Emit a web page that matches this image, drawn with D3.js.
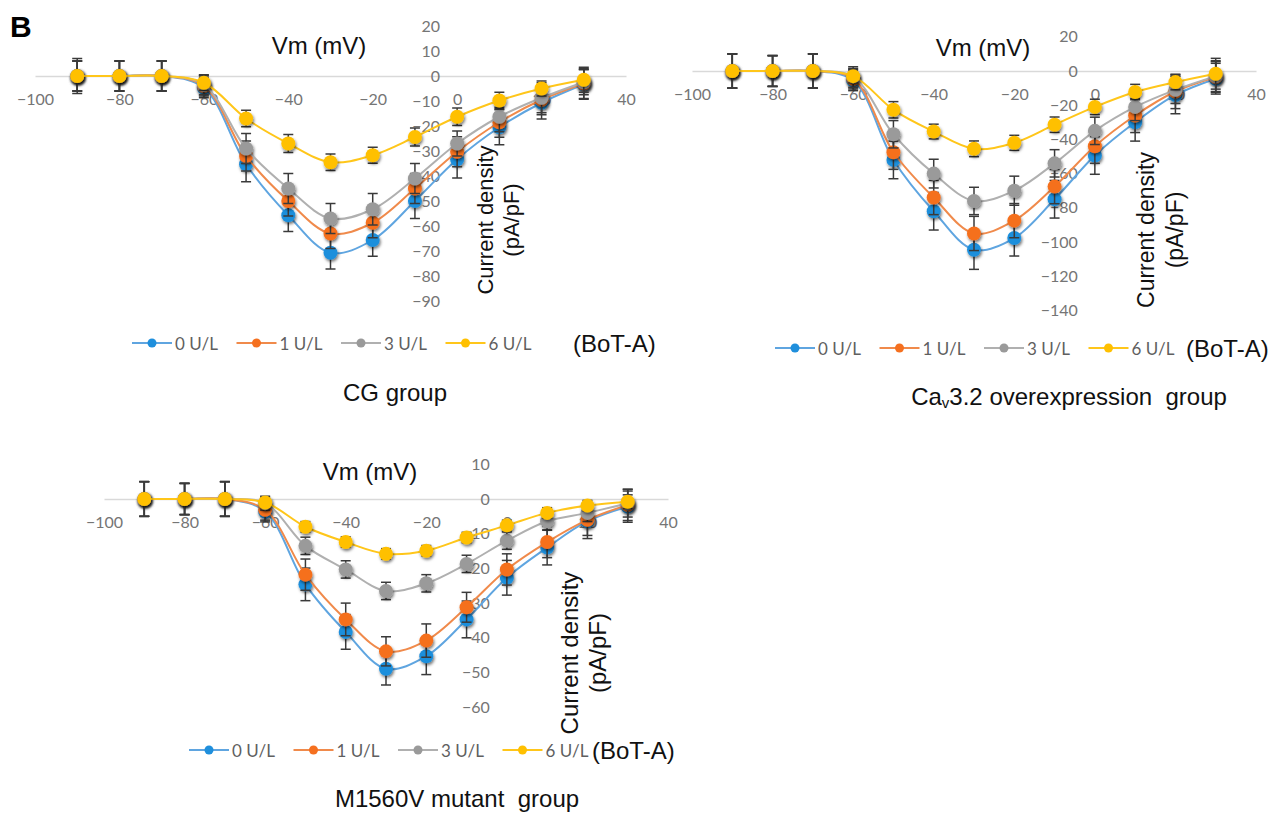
<!DOCTYPE html>
<html>
<head>
<meta charset="utf-8">
<script src="https://cdn.jsdelivr.net/npm/d3@7"></script>
<style>
  html, body { margin: 0; padding: 0; background: #ffffff; }
  svg { display: block; }
</style>
</head>
<body>
<script>
// ---------------- DATA ----------------
const voltages = [-90, -80, -70, -60, -50, -40, -30, -20, -10, 0, 10, 20, 30];
const seriesNames = ["0 U/L", "1 U/L", "3 U/L", "6 U/L"];
const legendSuffix = "(BoT-A)";
const xTickValues = [-100, -80, -60, -40, -20, 0, 20, 40];

// CG group
const cgTicksY = [20, 10, 0, -10, -20, -30, -40, -50, -60, -70, -80, -90];
const cg0 = [0, 0, 0, -4.7, -35.3, -55.7, -70.7, -65.6, -50, -33.3, -20.5, -10.7, -3.3];
const cg1 = [0, 0, 0, -4, -32, -50, -63, -58.7, -45, -30.3, -18.5, -9.5, -3];
const cg3 = [0, 0, 0, -3.5, -29, -45, -57, -53.3, -41, -27, -16.3, -8.7, -2.5];
const cg6 = [0, 0, 0, -2.7, -17, -27, -34.5, -31.7, -24.4, -16.3, -9.8, -5, -1.5];
const cgErr0 = [7, 6, 6, 4, 7, 6.5, 6.5, 6.5, 7, 7.5, 7, 6.5, 6];
const cgErr1 = [6, 6, 6, 4, 6, 6, 6, 6, 6, 6, 6, 6, 6];
const cgErr3 = [6, 6, 6, 4, 6, 6, 6, 6.3, 6, 5, 6, 6, 5];
const cgErr6 = [6, 6, 6, 3, 3.3, 3.6, 3.3, 3.2, 3.6, 3.5, 3.3, 3, 5];

// Cav3.2 overexpression group
const ovTicksY = [20, 0, -20, -40, -60, -80, -100, -120, -140];
const ov0 = [0, 0, 0, -5.5, -52, -82, -104.5, -97.7, -75, -49.4, -30, -14, -4.5];
const ov1 = [0, 0, 0, -4.5, -47.5, -74, -95, -87.5, -67.6, -44, -26, -12, -3.5];
const ov3 = [0, 0, 0, -3.5, -37, -60, -76, -70, -54, -35, -21, -11, -3];
const ov6 = [0, 0, 0, -3, -22.7, -35.4, -45.5, -42, -31.4, -21, -12.3, -6.5, -1.6];
const ovErr0 = [10, 9, 10, 6, 11, 11, 11.5, 10.5, 11, 11, 11, 11, 9];
const ovErr1 = [10, 9, 10, 6, 10, 10, 10, 10, 10, 10, 10, 10, 9];
const ovErr3 = [10, 9, 10, 6, 8, 8.4, 8, 8.5, 8, 8, 8, 8, 9];
const ovErr6 = [10, 9, 10, 4, 4.8, 4.3, 4.6, 4.4, 4.5, 4.5, 4.5, 4.5, 9];

// M1560V mutant group
const muTicksY = [10, 0, -10, -20, -30, -40, -50, -60];
const mu0 = [0, 0, 0, -3.6, -24.6, -38.3, -48.9, -45.3, -34.7, -22.7, -14, -6.4, -2.2];
const mu1 = [0, 0, 0, -3.1, -21.8, -34.7, -43.9, -40.8, -31.2, -20.3, -12.4, -6, -1.7];
const mu3 = [0, 0, 0, -1.2, -13.5, -20.3, -26.5, -24.3, -18.7, -12, -6.4, -4, -1.2];
const mu6 = [0, 0, 0, -1, -8, -12.4, -15.8, -14.9, -11.1, -7.6, -4, -1.9, -0.8];
const muErr0 = [5, 4.5, 5, 3, 4.7, 5, 4.7, 5.3, 5.3, 5, 5, 5, 4.5];
const muErr1 = [5, 4.5, 5, 3, 4.5, 4.7, 4.2, 4.8, 4.3, 4.5, 4.5, 4.5, 4.5];
const muErr3 = [5, 4.5, 5, 2, 2.5, 2.5, 2.5, 2.5, 2.5, 2.5, 2.5, 2.5, 4];
const muErr6 = [5, 4.5, 5, 1.5, 1.5, 1.5, 1.5, 1.5, 1.5, 1.5, 1.5, 1.5, 2];

// ---------------- STYLE / LAYOUT ----------------
const lineColors = ["#5fa5e0", "#f08a4b", "#b0b0b0", "#ffc61a"];
const markerColors = ["#1f8fdc", "#f5701f", "#9a9a9a", "#ffc000"];

const panels = [
  {
    series: [cg0, cg1, cg3, cg6], errs: [cgErr0, cgErr1, cgErr3, cgErr6], yTicks: cgTicksY,
    xRange: [35, 626], yDomain: [-90, 20], yRange: [301, 26],
    vm: [319, 45], yTitle: { x1: 485, x2: 511, y: 220, size: 22 },
    legend: { x: 152, y: 343, bota: 573 },
    title: { x: 395, y: 392 }
  },
  {
    series: [ov0, ov1, ov3, ov6], errs: [ovErr0, ovErr1, ovErr3, ovErr6], yTicks: ovTicksY,
    xRange: [692, 1256], yDomain: [-140, 20], yRange: [310.4, 36.8],
    vm: [983, 47], yTitle: { x1: 1146, x2: 1175, y: 230, size: 23 },
    legend: { x: 795, y: 348, bota: 1186 },
    title: { x: 1069, y: 396 }
  },
  {
    series: [mu0, mu1, mu3, mu6], errs: [muErr0, muErr1, muErr3, muErr6], yTicks: muTicksY,
    xRange: [104, 668], yDomain: [-60, 10], yRange: [707.2, 464.3],
    vm: [370, 471], yTitle: { x1: 569, x2: 597, y: 653, size: 24 },
    legend: { x: 209, y: 750, bota: 592 },
    title: { x: 457, y: 798 }
  }
];

const W = 1279, H = 814;
const svg = d3.select("body").append("svg").attr("width", W).attr("height", H)
  .style("font-family", "'Liberation Sans', Arial, sans-serif");

const defs = svg.append("defs");
const f = defs.append("filter").attr("id", "shadow").attr("x", "-50%").attr("y", "-50%").attr("width", "200%").attr("height", "200%");
f.append("feDropShadow").attr("dx", 1).attr("dy", 2).attr("stdDeviation", 1.4)
  .attr("flood-color", "#000").attr("flood-opacity", 0.55);

// Panel label
svg.append("text").attr("x", 10).attr("y", 37).attr("font-size", 30).attr("font-weight", "bold")
  .attr("fill", "#000").text("B");

const tickColor = "#757575";
const tickFont = "Lato, 'Open Sans', sans-serif";

panels.forEach((p, pi) => {
  const x = d3.scaleLinear().domain([-100, 40]).range(p.xRange);
  const y = d3.scaleLinear().domain(p.yDomain).range(p.yRange);
  const g = svg.append("g");
  const x0 = x(0);

  // x axis line at y=0
  const xAxis = d3.axisBottom(x).tickValues(xTickValues).tickSize(0).tickPadding(16)
    .tickFormat(d3.format("d"));
  const gx = g.append("g").attr("transform", `translate(0,${y(0)})`).call(xAxis);
  gx.select(".domain").attr("stroke", "#d9d9d9").attr("stroke-width", 1.3);
  gx.selectAll("text").attr("font-family", tickFont).attr("font-size", 16).attr("fill", tickColor)
    .attr("dy", "0.32em").attr("y", 24);

  // y axis (labels only, positioned left of x=0)
  const yAxis = d3.axisLeft(y).tickValues(p.yTicks).tickSize(0).tickPadding(17).tickFormat(d3.format("d"));
  const gy = g.append("g").attr("transform", `translate(${x0},0)`).call(yAxis);
  gy.select(".domain").remove();
  gy.selectAll("text").attr("font-family", tickFont).attr("font-size", 16).attr("fill", tickColor);

  // axis titles
  g.append("text").attr("x", p.vm[0]).attr("y", p.vm[1]).attr("text-anchor", "middle")
    .attr("dominant-baseline", "central").attr("font-size", 24).attr("fill", "#111").text("Vm (mV)");
  g.append("text").attr("transform", `translate(${p.yTitle.x1},${p.yTitle.y}) rotate(-90)`)
    .attr("text-anchor", "middle").attr("dominant-baseline", "central").attr("font-size", p.yTitle.size)
    .attr("fill", "#111").text("Current density");
  g.append("text").attr("transform", `translate(${p.yTitle.x2},${p.yTitle.y}) rotate(-90)`)
    .attr("text-anchor", "middle").attr("dominant-baseline", "central").attr("font-size", p.yTitle.size)
    .attr("fill", "#111").text("(pA/pF)");

  const line = d3.line().x(d => x(d[0])).y(d => y(d[1])).curve(d3.curveCatmullRom.alpha(0.5));

  p.series.forEach((vals, si) => {
    const pts = voltages.map((v, i) => [v, vals[i], p.errs[si][i]]);
    const sg = g.append("g");
    sg.append("path").datum(pts).attr("d", line).attr("fill", "none")
      .attr("stroke", lineColors[si]).attr("stroke-width", 2);
    const eb = sg.append("g").attr("stroke", "#3a3a3a").attr("stroke-width", 1.5);
    pts.forEach(d => {
      const cx = x(d[0]), yt = y(d[1] + d[2]), yb = y(d[1] - d[2]);
      eb.append("line").attr("x1", cx).attr("x2", cx).attr("y1", yt).attr("y2", yb);
      eb.append("line").attr("x1", cx - 5).attr("x2", cx + 5).attr("y1", yt).attr("y2", yt);
      eb.append("line").attr("x1", cx - 5).attr("x2", cx + 5).attr("y1", yb).attr("y2", yb);
    });
    sg.append("g").attr("filter", "url(#shadow)").selectAll("circle").data(pts).join("circle")
      .attr("cx", d => x(d[0])).attr("cy", d => y(d[1])).attr("r", 7)
      .attr("fill", markerColors[si]);
  });

  // legend
  const lg = g.append("g");
  seriesNames.forEach((name, si) => {
    const mx = p.legend.x + si * 104.5;
    lg.append("line").attr("x1", mx - 20).attr("x2", mx + 20).attr("y1", p.legend.y).attr("y2", p.legend.y)
      .attr("stroke", lineColors[si]).attr("stroke-width", 1.8);
    lg.append("circle").attr("cx", mx).attr("cy", p.legend.y).attr("r", 4.5).attr("fill", markerColors[si]);
    lg.append("text").attr("x", mx + 23).attr("y", p.legend.y).attr("dominant-baseline", "central")
      .attr("font-family", tickFont).attr("font-size", 17).attr("fill", "#5f5f5f").text(name);
  });
  lg.append("text").attr("x", p.legend.bota).attr("y", p.legend.y).attr("dominant-baseline", "central")
    .attr("font-size", 24).attr("fill", "#111").text(legendSuffix);

  // group title
  const t = g.append("text").attr("x", p.title.x).attr("y", p.title.y).attr("text-anchor", "middle")
    .attr("dominant-baseline", "central").attr("font-size", 24).attr("fill", "#111")
    .attr("xml:space", "preserve").style("white-space", "pre");
  if (pi === 0) t.text("CG group");
  else if (pi === 1) {
    t.append("tspan").text("Ca");
    t.append("tspan").attr("font-size", 15).attr("dy", 6).text("v");
    t.append("tspan").attr("dy", -6).text("3.2 overexpression\u00A0 group");
  } else t.text("M1560V mutant\u00A0 group");
});
</script>
</body>
</html>
